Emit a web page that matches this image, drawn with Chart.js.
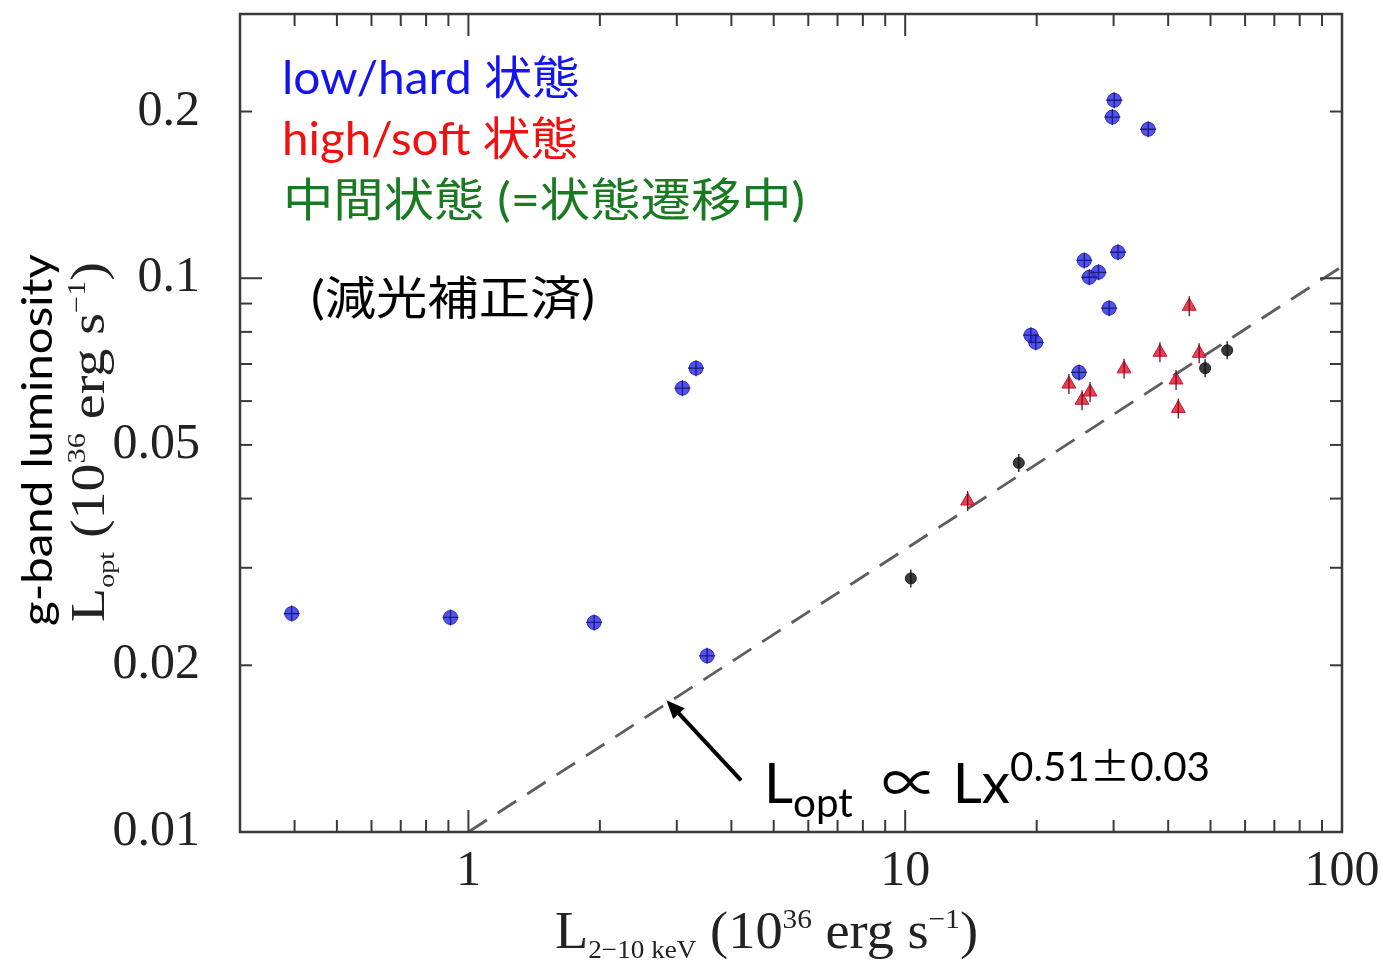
<!DOCTYPE html>
<html>
<head>
<meta charset="utf-8">
<script src="https://cdn.jsdelivr.net/npm/chart.js@4/dist/chart.umd.min.js"></script>
<style>
  html, body { margin: 0; padding: 0; background: #fff; }
  #wrap { width: 1383px; height: 963px; position: relative; }
</style>
</head>
<body>
<div id="wrap"><canvas id="lum-chart"></canvas></div>
<script>
// low/hard state points
const lowHardX = [0.394, 0.91, 1.94, 3.52, 3.09, 3.32, 30.1, 29.8, 36.0, 25.7, 26.4, 27.7, 30.7, 29.3, 19.4, 19.9, 25.0];
const lowHardY = [0.0248, 0.0244, 0.0239, 0.0208, 0.0633, 0.0688, 0.2096, 0.1954, 0.1858, 0.1077, 0.1004, 0.1025, 0.1114, 0.0883, 0.0789, 0.0766, 0.0676];

// high/soft state points
const highSoftX = [23.7, 25.4, 26.5, 31.7, 38.3, 44.7, 41.7, 42.2, 47.1, 13.9];
const highSoftY = [0.0644, 0.0602, 0.0623, 0.0686, 0.0735, 0.089, 0.0655, 0.0582, 0.0732, 0.0396];

// intermediate (transition) points
const interX = [10.3, 18.2, 48.6, 54.6];
const interY = [0.0287, 0.0464, 0.0688, 0.0741];

// power-law fit, Lopt ~ Lx^0.51
const fitX = [1, 100];
const fitY = [0.01, 0.105];

// axis ticks
const xLabelTicks = [1, 10, 100];
const xMinorTicks = [0.4, 0.5, 0.6, 0.7, 0.8, 0.9, 2, 3, 4, 5, 6, 7, 8, 9, 20, 30, 40, 50, 60, 70, 80, 90];
const xMajorTicks = [1, 10];
const yLabelTicks = [0.01, 0.02, 0.05, 0.1, 0.2];
const yMinorTicks = [0.02, 0.03, 0.04, 0.05, 0.06, 0.07, 0.08, 0.09, 0.2];
const yMajorTicks = [0.1];

// arrow pointing at the fit line (data units)
const arrowTail = { x: 4.21, y: 0.0124 };
const arrowTip = { x: 2.84, y: 0.0173 };

const SANS = 'Lato, "Noto Sans CJK JP", "DejaVu Sans", sans-serif';
const SERIF = '"Liberation Serif", "DejaVu Serif", serif';
const CJK = '"Noto Sans CJK JP", sans-serif';

function toPoints(xs, ys) {
  return xs.map((x, i) => ({ x: x, y: ys[i] }));
}

// draws a row of text runs (sub/superscripts) starting at 0,0 in current transform
function drawRuns(ctx, runs, width) {
  let total = 0;
  const widths = runs.map((r) => {
    ctx.font = r.size + "px " + (r.family || SANS);
    const w = ctx.measureText(r.t).width;
    total += w;
    return w;
  });
  const sx = width ? width / total : 1;
  ctx.save();
  ctx.scale(sx, 1);
  let cx = 0;
  runs.forEach((r, i) => {
    ctx.font = r.size + "px " + (r.family || SANS);
    ctx.fillStyle = r.color || "#000";
    ctx.fillText(r.t, cx, r.dy || 0);
    cx += widths[i];
  });
  ctx.restore();
}

const framePlugin = {
  id: "frame",
  afterDatasetsDraw(chart) {
    const { ctx, chartArea: a, scales } = chart;
    const xs = scales.x;
    const ys = scales.y;
    ctx.save();
    ctx.strokeStyle = "#3a3a3a";
    ctx.lineWidth = 2.5;
    ctx.strokeRect(a.left, a.top, a.right - a.left, a.bottom - a.top);
    ctx.lineWidth = 2;
    const tick = (x1, y1, x2, y2) => {
      ctx.beginPath();
      ctx.moveTo(x1, y1);
      ctx.lineTo(x2, y2);
      ctx.stroke();
    };
    xMinorTicks.forEach((v) => {
      const px = xs.getPixelForValue(v);
      tick(px, a.bottom, px, a.bottom - 12);
      tick(px, a.top, px, a.top + 12);
    });
    xMajorTicks.forEach((v) => {
      const px = xs.getPixelForValue(v);
      tick(px, a.bottom, px, a.bottom - 22);
      tick(px, a.top, px, a.top + 22);
    });
    yMinorTicks.forEach((v) => {
      const py = ys.getPixelForValue(v);
      tick(a.left, py, a.left + 12, py);
      tick(a.right, py, a.right - 12, py);
    });
    yMajorTicks.forEach((v) => {
      const py = ys.getPixelForValue(v);
      tick(a.left, py, a.left + 22, py);
      tick(a.right, py, a.right - 22, py);
    });

    // tick labels
    ctx.fillStyle = "#222";
    ctx.font = "50px " + SERIF;
    ctx.textAlign = "right";
    ctx.textBaseline = "middle";
    yLabelTicks.forEach((v) => {
      ctx.fillText(String(v), a.left - 40, ys.getPixelForValue(v));
    });
    ctx.textAlign = "center";
    xLabelTicks.forEach((v) => {
      ctx.fillText(String(v), xs.getPixelForValue(v), a.bottom + 40);
    });

    // arrow to the fit line
    const tx = xs.getPixelForValue(arrowTip.x);
    const ty = ys.getPixelForValue(arrowTip.y);
    const bx = xs.getPixelForValue(arrowTail.x);
    const by = ys.getPixelForValue(arrowTail.y);
    const ang = Math.atan2(ty - by, tx - bx);
    ctx.strokeStyle = "#000";
    ctx.fillStyle = "#000";
    ctx.lineWidth = 4;
    tick(bx, by, tx - 10 * Math.cos(ang), ty - 10 * Math.sin(ang));
    ctx.beginPath();
    ctx.moveTo(tx, ty);
    ctx.lineTo(tx - 20 * Math.cos(ang - 0.4), ty - 20 * Math.sin(ang - 0.4));
    ctx.lineTo(tx - 20 * Math.cos(ang + 0.4), ty - 20 * Math.sin(ang + 0.4));
    ctx.closePath();
    ctx.fill();
    ctx.restore();
  },
  afterDraw(chart) {
    const { ctx } = chart;
    ctx.save();
    ctx.textBaseline = "alphabetic";

    // state legend
    ctx.translate(282, 94);
    drawRuns(ctx, [{ t: "low/hard 状態", size: 46, color: "#1414f0" }], 298);
    ctx.setTransform(1, 0, 0, 1, 0, 0);
    ctx.translate(282, 155);
    drawRuns(ctx, [{ t: "high/soft 状態", size: 46, color: "#f01010" }], 296);
    ctx.setTransform(1, 0, 0, 1, 0, 0);
    ctx.translate(283, 216);
    drawRuns(ctx, [{ t: "中間状態 (=状態遷移中)", size: 46, color: "#1a7a22" }], 522);
    ctx.setTransform(1, 0, 0, 1, 0, 0);
    ctx.translate(311, 314);
    drawRuns(ctx, [{ t: "(減光補正済)", size: 46, color: "#000" }], 284);

    // fit relation
    ctx.setTransform(1, 0, 0, 1, 0, 0);
    ctx.translate(764, 803);
    drawRuns(ctx, [
      { t: "L", size: 56 },
      { t: "opt", size: 40, dy: 14 },
      { t: "  ∝ Lx", size: 56 },
      { t: "0.51", size: 40, dy: -22 },
      { t: "±", size: 40, dy: -22, family: CJK },
      { t: "0.03", size: 40, dy: -22 },
    ], 446);

    // x axis title
    ctx.setTransform(1, 0, 0, 1, 0, 0);
    ctx.translate(555, 948);
    drawRuns(ctx, [
      { t: "L", size: 52, family: SERIF, color: "#222" },
      { t: "2−10 keV", size: 26, family: SERIF, dy: 10, color: "#222" },
      { t: " (10", size: 52, family: SERIF, color: "#222" },
      { t: "36", size: 28, family: SERIF, dy: -20, color: "#222" },
      { t: " erg s", size: 52, family: SERIF, color: "#222" },
      { t: "−1", size: 28, family: SERIF, dy: -20, color: "#222" },
      { t: ")", size: 52, family: SERIF, color: "#222" },
    ], 423);

    // y axis title
    ctx.setTransform(1, 0, 0, 1, 0, 0);
    ctx.translate(104, 622);
    ctx.rotate(-Math.PI / 2);
    drawRuns(ctx, [
      { t: "L", size: 48, family: SERIF, color: "#222" },
      { t: "opt", size: 24, family: SERIF, dy: 10, color: "#222" },
      { t: " (10", size: 48, family: SERIF, color: "#222" },
      { t: "36", size: 26, family: SERIF, dy: -19, color: "#222" },
      { t: " erg s", size: 48, family: SERIF, color: "#222" },
      { t: "−1", size: 26, family: SERIF, dy: -19, color: "#222" },
      { t: ")", size: 48, family: SERIF, color: "#222" },
    ], 360);

    ctx.setTransform(1, 0, 0, 1, 0, 0);
    ctx.translate(52, 626);
    ctx.rotate(-Math.PI / 2);
    drawRuns(ctx, [{ t: "g-band luminosity", size: 42, color: "#000" }], 372);
    ctx.restore();
  },
};

const chartCanvas = document.getElementById("lum-chart");

new Chart(chartCanvas, {
  type: "scatter",
  data: {
    datasets: [
      {
        label: "fit",
        type: "line",
        data: toPoints(fitX, fitY),
        borderColor: "#5e5e5e",
        borderWidth: 2.8,
        borderDash: [22, 13],
        pointRadius: 0,
        order: 4,
      },
      {
        label: "low/hard",
        data: toPoints(lowHardX, lowHardY),
        pointStyle: "circle",
        pointRadius: 7,
        backgroundColor: "rgba(50, 50, 235, 0.85)",
        borderColor: "#2a2ac8",
        borderWidth: 1,
        order: 3,
      },
      {
        label: "high/soft",
        data: toPoints(highSoftX, highSoftY),
        pointStyle: "triangle",
        pointRadius: 8,
        backgroundColor: "rgba(232, 40, 60, 0.9)",
        borderColor: "#c01830",
        borderWidth: 1,
        order: 3,
      },
      {
        label: "intermediate",
        data: toPoints(interX, interY),
        pointStyle: "circle",
        pointRadius: 5.5,
        backgroundColor: "#3a3a3a",
        borderColor: "#222",
        borderWidth: 1,
        order: 3,
      },
      {
        label: "low/hard err",
        data: toPoints(lowHardX, lowHardY),
        pointStyle: "cross",
        pointRadius: 8,
        borderColor: "#1c1c78",
        borderWidth: 1.3,
        order: 1,
      },
      {
        label: "high/soft err",
        data: toPoints(highSoftX, highSoftY),
        pointStyle: "line",
        rotation: 90,
        pointRadius: 10,
        borderColor: "#701020",
        borderWidth: 1.3,
        order: 1,
      },
      {
        label: "intermediate err",
        data: toPoints(interX, interY),
        pointStyle: "line",
        rotation: 90,
        pointRadius: 9,
        borderColor: "#111",
        borderWidth: 1.3,
        order: 1,
      },
    ],
  },
  options: {
    responsive: true,
    maintainAspectRatio: false,
    animation: false,
    events: [],
    layout: { padding: { left: 240, top: 14, right: 41, bottom: 131 } },
    plugins: {
      legend: { display: false },
      tooltip: { enabled: false },
    },
    scales: {
      x: { type: "logarithmic", display: false, min: 0.3, max: 100 },
      y: { type: "logarithmic", display: false, min: 0.01, max: 0.3 },
    },
  },
  plugins: [framePlugin],
});
</script>
</body>
</html>
